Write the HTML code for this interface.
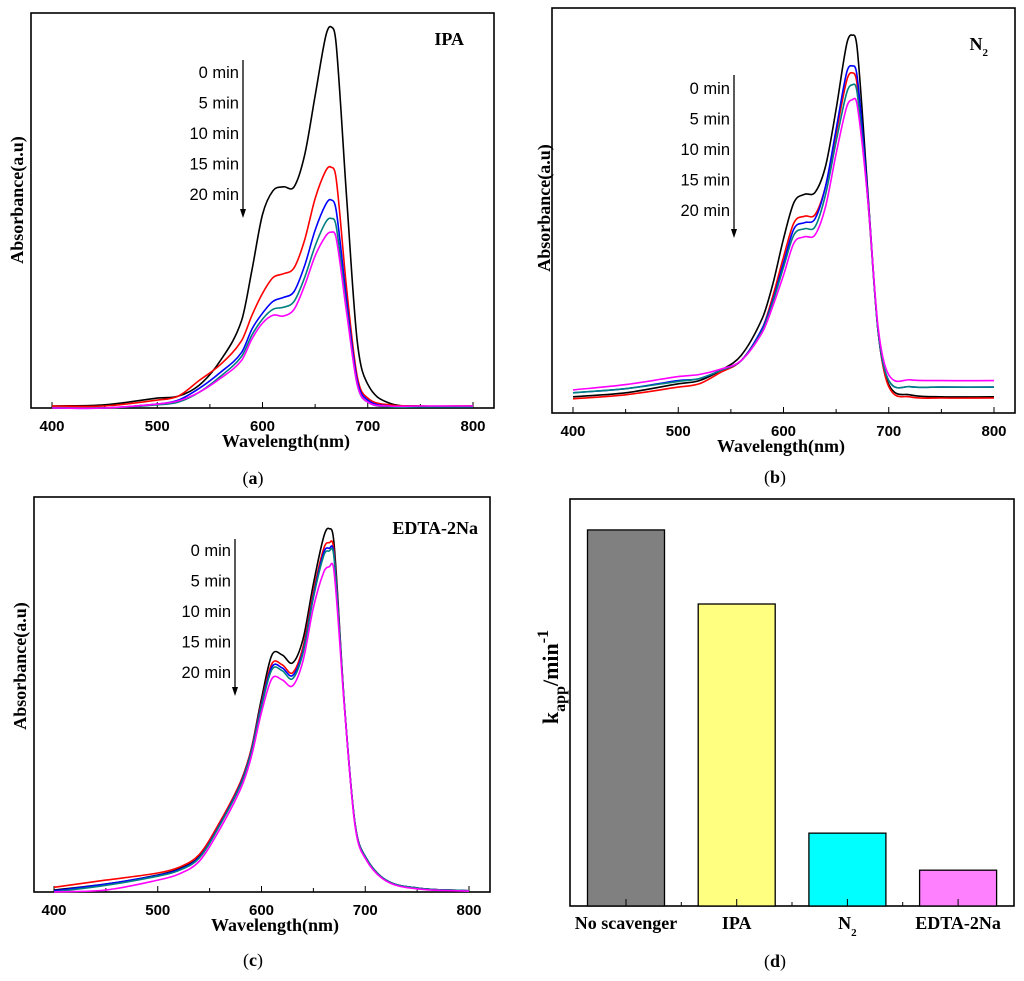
<!DOCTYPE html>
<html><head><meta charset="utf-8">
<style>
html,body{margin:0;padding:0;background:#fff;}
svg{display:block;}
.tick{font-family:"Liberation Sans",Arial,sans-serif;font-weight:bold;font-size:15px;fill:#000;}
.ttl{font-family:"Liberation Serif",serif;font-weight:bold;font-size:18px;fill:#000;}
.leg{font-family:"Liberation Sans",Arial,sans-serif;font-size:16.5px;fill:#000;}
.pl{font-family:"Liberation Serif",serif;font-size:18px;fill:#000;}
</style></head>
<body>
<svg id="fig" width="1024" height="981" viewBox="0 0 1024 981" xmlns="http://www.w3.org/2000/svg"></svg>
<script>
const wavelengths = [400,450,500,520,540,560,580,590,600,610,620,630,640,650,660,665,670,680,690,700,720,750,800];
const xTicks = [400,500,600,700,800];
const seriesColors = ["#000000","#ff0000","#0000ff","#008080","#ff00ff"];
const timeLabels = ["0 min","5 min","10 min","15 min","20 min"];
// Panel (a) IPA
const ipa0 = [0.005,0.008,0.025,0.03,0.058,0.12,0.22,0.35,0.49,0.55,0.56,0.56,0.64,0.79,0.94,0.965,0.92,0.53,0.17,0.06,0.013,0.005,0.005];
const ipa5 = [0.005,0.005,0.02,0.03,0.07,0.11,0.17,0.235,0.29,0.33,0.34,0.355,0.425,0.53,0.6,0.61,0.58,0.3,0.08,0.025,0.008,0.005,0.005];
const ipa10 = [0,0,0.01,0.02,0.05,0.09,0.14,0.2,0.24,0.27,0.28,0.295,0.36,0.45,0.515,0.527,0.5,0.27,0.07,0.02,0.005,0.003,0.003];
const ipa15 = [0,0,0.008,0.015,0.04,0.08,0.13,0.185,0.225,0.25,0.255,0.27,0.33,0.41,0.47,0.48,0.46,0.25,0.06,0.015,0.003,0.003,0.003];
const ipa20 = [0,0,0.01,0.018,0.04,0.075,0.12,0.175,0.215,0.235,0.233,0.25,0.31,0.385,0.435,0.445,0.43,0.24,0.06,0.015,0.005,0.005,0.005];
// Panel (b) N2
const n2_0 = [0.04,0.05,0.072,0.08,0.105,0.143,0.235,0.32,0.43,0.52,0.54,0.545,0.61,0.75,0.91,0.933,0.9,0.55,0.2,0.07,0.045,0.04,0.04];
const n2_5 = [0.035,0.045,0.064,0.072,0.1,0.13,0.21,0.29,0.385,0.47,0.486,0.49,0.56,0.69,0.82,0.84,0.81,0.53,0.2,0.065,0.04,0.037,0.037];
const n2_10 = [0.05,0.06,0.08,0.085,0.105,0.13,0.21,0.28,0.37,0.455,0.47,0.48,0.56,0.7,0.84,0.857,0.83,0.54,0.2,0.08,0.065,0.064,0.064];
const n2_15 = [0.05,0.06,0.078,0.085,0.105,0.13,0.205,0.275,0.36,0.44,0.455,0.46,0.54,0.67,0.79,0.81,0.79,0.53,0.2,0.08,0.065,0.064,0.064];
const n2_20 = [0.057,0.07,0.09,0.095,0.108,0.13,0.2,0.265,0.34,0.42,0.435,0.44,0.51,0.64,0.755,0.773,0.76,0.53,0.21,0.094,0.082,0.08,0.08];
// Panel (c) EDTA-2Na
const ed0 = [0.005,0.02,0.043,0.058,0.09,0.175,0.28,0.36,0.49,0.6,0.6,0.58,0.64,0.78,0.9,0.92,0.88,0.47,0.175,0.09,0.03,0.01,0.003];
const ed5 = [0.012,0.03,0.048,0.062,0.095,0.178,0.28,0.36,0.48,0.578,0.575,0.555,0.62,0.76,0.87,0.884,0.86,0.47,0.175,0.09,0.03,0.01,0.003];
const ed10 = [0.003,0.02,0.042,0.056,0.088,0.172,0.275,0.355,0.475,0.57,0.567,0.548,0.61,0.75,0.86,0.87,0.85,0.47,0.175,0.09,0.03,0.01,0.003];
const ed15 = [0,0.017,0.04,0.054,0.086,0.17,0.272,0.352,0.47,0.563,0.56,0.54,0.605,0.745,0.852,0.863,0.845,0.47,0.175,0.09,0.03,0.01,0.003];
const ed20 = [0,0.005,0.03,0.045,0.078,0.16,0.262,0.34,0.455,0.54,0.537,0.522,0.585,0.72,0.81,0.823,0.81,0.465,0.17,0.085,0.028,0.008,0.002];
// Panel (d)
const barCategories = ["No scavenger","IPA","N2","EDTA-2Na"];
const barValues = [0.924,0.742,0.179,0.088];
const barColors = ["#808080","#ffff80","#00ffff","#ff80ff"];

const NS="http://www.w3.org/2000/svg";
const svg=document.getElementById('fig');
function mk(tag,attrs,parent){const e=document.createElementNS(NS,tag);for(const k in attrs)e.setAttribute(k,attrs[k]);(parent||svg).appendChild(e);return e;}
// cubic Hermite with non-uniform tangents (avoids overshoot kinks)
function smooth(pts){
 const n=pts.length,m=[];
 for(let i=0;i<n;i++){
  const a=pts[Math.max(0,i-1)],b=pts[Math.min(n-1,i+1)];
  m.push((b[1]-a[1])/(b[0]-a[0]));
 }
 let d='M'+pts[0][0].toFixed(1)+','+pts[0][1].toFixed(1);
 for(let i=0;i<n-1;i++){
  const p1=pts[i],p2=pts[i+1],dx=(p2[0]-p1[0])/3;
  d+=' C'+(p1[0]+dx).toFixed(1)+','+(p1[1]+m[i]*dx).toFixed(1)+' '+(p2[0]-dx).toFixed(1)+','+(p2[1]-m[i+1]*dx).toFixed(1)+' '+p2[0].toFixed(1)+','+p2[1].toFixed(1);
 }
 return d;}

function spectrum(cfg){
 const g=mk('g',{});
 
 
 const xs=w=>cfg.x400+(w-400)*(cfg.x800-cfg.x400)/400;
 const ys=v=>cfg.y1-v*(cfg.y1-cfg.y0);
 const frame=mk('rect',{x:cfg.fx0,y:cfg.y0,width:cfg.fx1-cfg.fx0,height:cfg.y1-cfg.y0,fill:'none',stroke:'#000','stroke-width':1.6},g);
 
 
 for(let w=400;w<=800;w+=50){
  const t=mk('line',{x1:xs(w),x2:xs(w),y1:cfg.y1,y2:cfg.y1-(w%100===0?6:4),stroke:'#000','stroke-width':1},g);
  
  
 }
 xTicks.forEach(w=>{const t=mk('text',{x:xs(w),y:cfg.y1+23,'text-anchor':'middle',class:'tick'},g);t.textContent=w;
  
  });
 cfg.series.forEach((s,i)=>{
  const p=mk('path',{d:smooth(wavelengths.map((w,j)=>[xs(w),ys(s[j])])),fill:'none',stroke:seriesColors[i],'stroke-width':1.6},g);
  
  
 });
 timeLabels.forEach((l,i)=>{const t=mk('text',{x:cfg.legX,y:cfg.legY+i*cfg.legDy,'text-anchor':'end',class:'leg'},g);t.textContent=l;
  
  });
 const ar=mk('line',{x1:cfg.arX,x2:cfg.arX,y1:cfg.arY0,y2:cfg.arY1-6,stroke:'#000','stroke-width':1.3},g);
 
 
 const ah=mk('path',{d:`M${cfg.arX-3},${cfg.arY1-9} L${cfg.arX+3},${cfg.arY1-9} L${cfg.arX},${cfg.arY1} Z`,fill:'#000'},g);
 
 
 const xt=mk('text',{x:cfg.xtX,y:cfg.y1+39,'text-anchor':'middle',class:'ttl'},g);xt.textContent='Wavelength(nm)';
 
 
 const yt=mk('text',{x:0,y:0,'text-anchor':'middle',class:'ttl',transform:`translate(${cfg.ytX},${cfg.ytY}) rotate(-90)`},g);yt.textContent='Absorbance(a.u)';
 
 
 const lb=mk('text',{x:cfg.lbX,y:cfg.lbY,'text-anchor':'end',class:'ttl'},g);
 if(cfg.label==='N2'){lb.textContent='N';const sub=mk('tspan',{'font-size':'11px',dy:6},lb);sub.textContent='2';}
 else lb.textContent=cfg.label;
 
 
 const pl=mk('text',{x:cfg.plX,y:cfg.plY,'text-anchor':'middle',class:'pl'},g);
 pl.innerHTML='(<tspan font-weight="bold">'+cfg.pl+'</tspan>)';
 
 
}

spectrum({name:'panel-a-ipa',fx0:31,fx1:494,y0:13,y1:408,x400:52,x800:473,series:[ipa0,ipa5,ipa10,ipa15,ipa20],
 legX:239,legY:78,legDy:30.5,arX:243,arY0:60,arY1:218,xtX:286,ytX:23,ytY:200,label:'IPA',lbX:464,lbY:45,pl:'a',plX:253,plY:484});
spectrum({name:'panel-b-n2',fx0:552,fx1:1015,y0:8,y1:413,x400:573,x800:994,series:[n2_0,n2_5,n2_10,n2_15,n2_20],
 legX:730,legY:94,legDy:30.5,arX:734,arY0:75,arY1:238,xtX:781,ytX:550,ytY:208,label:'N2',lbX:988,lbY:50,pl:'b',plX:775,plY:483});
spectrum({name:'panel-c-edta',fx0:34,fx1:490,y0:497,y1:892,x400:54,x800:469,series:[ed0,ed5,ed10,ed15,ed20],
 legX:231,legY:556,legDy:30.5,arX:235,arY0:539,arY1:696,xtX:275,ytX:26,ytY:666,label:'EDTA-2Na',lbX:478,lbY:534,pl:'c',plX:253,plY:966});

// Panel d
(function(){
 const g=mk('g',{});
 
 
 const fx0=570,fx1=1014,y0=499,y1=906,bw=77;
 const xc=i=>626+i*110.7;
 const ys=v=>y1-v*(y1-y0);
 const fr=mk('rect',{x:fx0,y:y0,width:fx1-fx0,height:y1-y0,fill:'none',stroke:'#000','stroke-width':1.6},g);
 
 
 barValues.forEach((v,i)=>{
  const r=mk('rect',{x:xc(i)-bw/2,y:ys(v),width:bw,height:y1-ys(v),fill:barColors[i],stroke:'#000','stroke-width':1.3},g);
  
  
  const tk=mk('line',{x1:xc(i),x2:xc(i),y1:y1,y2:y1-7,stroke:'#000','stroke-width':1},g);
  
  
  if(i<3){const m=mk('line',{x1:xc(i)+55.3,x2:xc(i)+55.3,y1:y1,y2:y1-4,stroke:'#000','stroke-width':1},g);
   
   }
  const t=mk('text',{x:xc(i),y:y1+23,'text-anchor':'middle',class:'ttl'},g);
  if(barCategories[i]==='N2'){t.textContent='N';const s=mk('tspan',{'font-size':'11px',dy:7},t);s.textContent='2';}
  else t.textContent=barCategories[i];
  
  
 });
 const yt=mk('text',{x:0,y:0,'text-anchor':'middle',class:'ttl',transform:'translate(558,677) rotate(-90)'},g);
 yt.setAttribute('style','font-size:22px');
 yt.innerHTML='k<tspan dy="7" font-size="16">app</tspan><tspan dy="-7">/min</tspan><tspan dy="-10" font-size="16">-1</tspan>';
 
 
 const pl=mk('text',{x:775,y:967,'text-anchor':'middle',class:'pl'},g);
 pl.innerHTML='(<tspan font-weight="bold">d</tspan>)';
 
 
})();
</script>
</body></html>
